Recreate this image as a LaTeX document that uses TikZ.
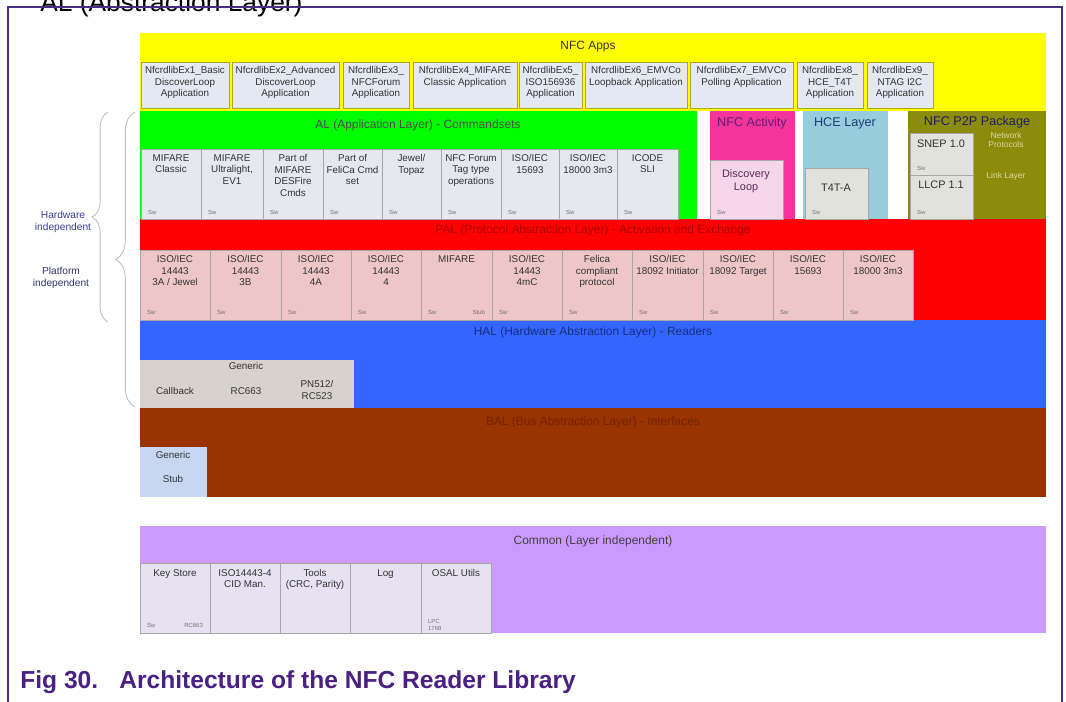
\documentclass[tikz,border=0pt]{standalone}
\usepackage{fontspec}
\setmainfont{Liberation Sans}
\usetikzlibrary{positioning,fit,decorations.pathreplacing}

\definecolor{appyellow}{RGB}{255,255,0}
\definecolor{algreen}{RGB}{0,255,0}
\definecolor{actpink}{RGB}{242,52,155}
\definecolor{hceblue}{RGB}{150,204,220}
\definecolor{ptpolive}{RGB}{140,140,12}
\definecolor{palred}{RGB}{255,0,0}
\definecolor{halblue}{RGB}{51,102,255}
\definecolor{balbrown}{RGB}{153,51,0}
\definecolor{compurple}{RGB}{204,153,255}
\definecolor{appbox}{RGB}{228,232,242}
\definecolor{appedge}{RGB}{176,168,20}
\definecolor{albox}{RGB}{230,232,240}
\definecolor{palbox}{RGB}{238,198,200}
\definecolor{halbox}{RGB}{216,210,204}
\definecolor{stubbox}{RGB}{200,214,242}
\definecolor{combox}{RGB}{230,226,242}
\definecolor{discbox}{RGB}{246,214,234}
\definecolor{greybox}{RGB}{226,226,220}
\definecolor{framepurple}{RGB}{75,44,133}
\definecolor{captionpurple}{RGB}{74,32,131}
\definecolor{sidetext}{RGB}{60,60,150}

\begin{document}
\begin{tikzpicture}[x=0.02cm, y=-0.02cm,
    layer/.style={inner sep=0pt, draw=none},
    unit/.style={inner sep=0pt, draw=black!35, line width=0.3pt},
    appunit/.style={inner sep=0pt, draw=appedge, line width=0.5pt, fill=appbox},
    txt/.style={font=\fontsize{5.6}{6.6}\selectfont, text=black!80, align=center, inner sep=0pt},
    sw/.style={font=\fontsize{3.4}{4}\selectfont, text=black!55, align=left, inner sep=0pt},
    ttl/.style={font=\fontsize{6.8}{8}\selectfont, inner sep=0pt},
    brace/.style={draw=black!25, line width=0.5pt, decorate}]

    \useasboundingbox (0,0) rectangle (1066,702);

    % Frame and headings
    \begin{scope}
        \clip (0,0) rectangle (1066,702);
        \node[anchor=base west, inner sep=0pt, font=\fontsize{15}{18}\selectfont] (head) at (40,12) {AL (Abstraction Layer)};
        \draw[framepurple, line width=0.9pt] (8,720) -- (8,7) -- (1062,7) -- (1062,720);
    \end{scope}
    \node[anchor=base west, inner sep=0pt, text=captionpurple, font=\bfseries\fontsize{14}{16}\selectfont] (cap) at (20,689) {Fig 30.\hspace{12pt}Architecture of the NFC Reader Library};

    % Layers
    \node[layer, fill=appyellow, fit={(140,33)(1046,111)}] (apps) {};
    \node[layer, fill=algreen, fit={(140,111)(697,219)}] (al) {};
    \node[layer, fill=actpink, fit={(710,111)(795,219)}] (act) {};
    \node[layer, fill=hceblue, fit={(803,111)(888,219)}] (hce) {};
    \node[layer, fill=ptpolive, fit={(908,111)(1046,219)}] (p2p) {};
    \node[layer, fill=palred, fit={(140,219)(1046,320)}] (pal) {};
    \node[layer, fill=halblue, fit={(140,320)(1046,408)}] (hal) {};
    \node[layer, fill=balbrown, fit={(140,408)(1046,497)}] (bal) {};
    \node[layer, fill=compurple, fit={(140,526)(1046,633)}] (com) {};

    \node[ttl, text=black!80] (appsttl) at (588,47) {NFC Apps};
    \node[ttl, text=black!70] (alttl) at (418,125) {AL (Application Layer) - Commandsets};
    \node[ttl, text={rgb,255:red,96;green,30;blue,120}, font=\fontsize{7.2}{8}\selectfont] (actttl) at (752,123) {NFC Activity};
    \node[ttl, text={rgb,255:red,30;green,60;blue,120}, font=\fontsize{7.2}{8}\selectfont] (hcettl) at (845,123) {HCE Layer};
    \node[ttl, text={rgb,255:red,30;green,30;blue,90}, font=\fontsize{7.2}{8}\selectfont] (p2pttl) at (977,122) {NFC P2P Package};
    \node[ttl, text={rgb,255:red,170;green,0;blue,0}] (palttl) at (593,230) {PAL (Protocol Abstraction Layer) - Activation and Exchange};
    \node[ttl, text={rgb,255:red,25;green,45;blue,130}] (halttl) at (593,332) {HAL (Hardware Abstraction Layer) - Readers};
    \node[ttl, text={rgb,255:red,115;green,35;blue,0}] (balttl) at (593,422) {BAL (Bus Abstraction Layer) - Interfaces};
    \node[ttl, text=black!75] (comttl) at (593,541) {Common (Layer independent)};

    % Applications
    \node[appunit, fit={(141,62)(229,108)}] (app1) {};
    \node[appunit, fit={(232,62)(339,108)}] (app2) {};
    \node[appunit, fit={(343,62)(409,108)}] (app3) {};
    \node[appunit, fit={(413,62)(517,108)}] (app4) {};
    \node[appunit, fit={(519,62)(582,108)}] (app5) {};
    \node[appunit, fit={(585,62)(687,108)}] (app6) {};
    \node[appunit, fit={(690,62)(793,108)}] (app7) {};
    \node[appunit, fit={(797,62)(863,108)}] (app8) {};
    \node[appunit, fit={(867,62)(933,108)}] (app9) {};
    \node[txt, below=2.5pt of app1.north] (app1t) {NfcrdlibEx1\_Basic\\DiscoverLoop\\Application};
    \node[txt, below=2.5pt of app2.north] (app2t) {NfcrdlibEx2\_Advanced\\DiscoverLoop\\Application};
    \node[txt, below=2.5pt of app3.north] (app3t) {NfcrdlibEx3\_\\NFCForum\\Application};
    \node[txt, below=2.5pt of app4.north] (app4t) {NfcrdlibEx4\_MIFARE\\Classic Application};
    \node[txt, below=2.5pt of app5.north] (app5t) {NfcrdlibEx5\_\\ISO156936\\Application};
    \node[txt, below=2.5pt of app6.north] (app6t) {NfcrdlibEx6\_EMVCo\\Loopback Application};
    \node[txt, below=2.5pt of app7.north] (app7t) {NfcrdlibEx7\_EMVCo\\Polling Application};
    \node[txt, below=2.5pt of app8.north] (app8t) {NfcrdlibEx8\_\\HCE\_T4T\\Application};
    \node[txt, below=2.5pt of app9.north] (app9t) {NfcrdlibEx9\_\\NTAG I2C\\Application};

    % AL command sets
    \node[unit, fill=albox, fit={(141,149)(201,219)}] (al1) {};
    \node[unit, fill=albox, fit={(201,149)(263,219)}] (al2) {};
    \node[unit, fill=albox, fit={(263,149)(323,219)}] (al3) {};
    \node[unit, fill=albox, fit={(323,149)(382,219)}] (al4) {};
    \node[unit, fill=albox, fit={(382,149)(441,219)}] (al5) {};
    \node[unit, fill=albox, fit={(441,149)(501,219)}] (al6) {};
    \node[unit, fill=albox, fit={(501,149)(559,219)}] (al7) {};
    \node[unit, fill=albox, fit={(559,149)(617,219)}] (al8) {};
    \node[unit, fill=albox, fit={(617,149)(678,219)}] (al9) {};
    \node[txt, below=3pt of al1.north] (al1t) {MIFARE\\Classic};
    \node[txt, below=3pt of al2.north] (al2t) {MIFARE\\Ultralight,\\EV1};
    \node[txt, below=3pt of al3.north] (al3t) {Part of\\MIFARE\\DESFire\\Cmds};
    \node[txt, below=3pt of al4.north] (al4t) {Part of\\FeliCa Cmd\\set};
    \node[txt, below=3pt of al5.north] (al5t) {Jewel/\\Topaz};
    \node[txt, below=3pt of al6.north] (al6t) {NFC Forum\\Tag type\\operations};
    \node[txt, below=3pt of al7.north] (al7t) {ISO/IEC\\15693};
    \node[txt, below=3pt of al8.north] (al8t) {ISO/IEC\\18000 3m3};
    \node[txt, below=3pt of al9.north] (al9t) {ICODE\\SLI};
    \node[sw, above right=2.5pt and 4pt of al1.south west] (al1s) {Sw};
    \node[sw, above right=2.5pt and 4pt of al2.south west] (al2s) {Sw};
    \node[sw, above right=2.5pt and 4pt of al3.south west] (al3s) {Sw};
    \node[sw, above right=2.5pt and 4pt of al4.south west] (al4s) {Sw};
    \node[sw, above right=2.5pt and 4pt of al5.south west] (al5s) {Sw};
    \node[sw, above right=2.5pt and 4pt of al6.south west] (al6s) {Sw};
    \node[sw, above right=2.5pt and 4pt of al7.south west] (al7s) {Sw};
    \node[sw, above right=2.5pt and 4pt of al8.south west] (al8s) {Sw};
    \node[sw, above right=2.5pt and 4pt of al9.south west] (al9s) {Sw};

    % NFC activity, HCE, P2P
    \node[unit, fill=discbox, fit={(710,160)(783,219)}] (disc) {};
    \node[txt, text={rgb,255:red,90;green,40;blue,90}, font=\fontsize{6.2}{7.2}\selectfont] (disct) at (746,181) {Discovery\\Loop};
    \node[sw, above right=2.5pt and 4pt of disc.south west] (discs) {Sw};
    \node[unit, fill=greybox, fit={(805,168)(868,219)}] (t4t) {};
    \node[txt, font=\fontsize{6.2}{7.2}\selectfont] (t4tt) at (836,188) {T4T-A};
    \node[sw, above right=2.5pt and 4pt of t4t.south west] (t4ts) {Sw};
    \node[unit, fill=greybox, fit={(910,133)(973,175)}] (snep) {};
    \node[unit, fill=greybox, fit={(910,175)(973,219)}] (llcp) {};
    \node[txt, font=\fontsize{6.2}{7.2}\selectfont] (snept) at (941,144) {SNEP 1.0};
    \node[txt, font=\fontsize{6.2}{7.2}\selectfont] (llcpt) at (941,185) {LLCP 1.1};
    \node[sw, above right=2.5pt and 4pt of snep.south west] (sneps) {Sw};
    \node[sw, above right=2.5pt and 4pt of llcp.south west] (llcps) {Sw};
    \node[txt, text={rgb,255:red,215;green,215;blue,170}, font=\fontsize{4.8}{5.2}\selectfont] (netp) at (1006,140) {Network\\Protocols};
    \node[txt, text={rgb,255:red,215;green,215;blue,170}, font=\fontsize{4.8}{5.2}\selectfont] (linkl) at (1006,176) {Link Layer};

    % PAL protocols
    \node[unit, fill=palbox, fit={(140,250)(210,320)}] (pal1) {};
    \node[unit, fill=palbox, fit={(210,250)(281,320)}] (pal2) {};
    \node[unit, fill=palbox, fit={(281,250)(351,320)}] (pal3) {};
    \node[unit, fill=palbox, fit={(351,250)(421,320)}] (pal4) {};
    \node[unit, fill=palbox, fit={(421,250)(492,320)}] (pal5) {};
    \node[unit, fill=palbox, fit={(492,250)(562,320)}] (pal6) {};
    \node[unit, fill=palbox, fit={(562,250)(632,320)}] (pal7) {};
    \node[unit, fill=palbox, fit={(632,250)(703,320)}] (pal8) {};
    \node[unit, fill=palbox, fit={(703,250)(773,320)}] (pal9) {};
    \node[unit, fill=palbox, fit={(773,250)(843,320)}] (pal10) {};
    \node[unit, fill=palbox, fit={(843,250)(913,320)}] (pal11) {};
    \node[txt, below=3pt of pal1.north] (pal1t) {ISO/IEC\\14443\\3A / Jewel};
    \node[txt, below=3pt of pal2.north] (pal2t) {ISO/IEC\\14443\\3B};
    \node[txt, below=3pt of pal3.north] (pal3t) {ISO/IEC\\14443\\4A};
    \node[txt, below=3pt of pal4.north] (pal4t) {ISO/IEC\\14443\\4};
    \node[txt, below=3pt of pal5.north] (pal5t) {MIFARE};
    \node[txt, below=3pt of pal6.north] (pal6t) {ISO/IEC\\14443\\4mC};
    \node[txt, below=3pt of pal7.north] (pal7t) {Felica\\compliant\\protocol};
    \node[txt, below=3pt of pal8.north] (pal8t) {ISO/IEC\\18092 Initiator};
    \node[txt, below=3pt of pal9.north] (pal9t) {ISO/IEC\\18092 Target};
    \node[txt, below=3pt of pal10.north] (pal10t) {ISO/IEC\\15693};
    \node[txt, below=3pt of pal11.north] (pal11t) {ISO/IEC\\18000 3m3};
    \node[sw, above right=3pt and 4pt of pal1.south west] (pal1s) {Sw};
    \node[sw, above right=3pt and 4pt of pal2.south west] (pal2s) {Sw};
    \node[sw, above right=3pt and 4pt of pal3.south west] (pal3s) {Sw};
    \node[sw, above right=3pt and 4pt of pal4.south west] (pal4s) {Sw};
    \node[sw, above right=3pt and 4pt of pal5.south west] (pal5s) {Sw};
    \node[sw, above left=3pt and 4pt of pal5.south east] (pal5b) {Stub};
    \node[sw, above right=3pt and 4pt of pal6.south west] (pal6s) {Sw};
    \node[sw, above right=3pt and 4pt of pal7.south west] (pal7s) {Sw};
    \node[sw, above right=3pt and 4pt of pal8.south west] (pal8s) {Sw};
    \node[sw, above right=3pt and 4pt of pal9.south west] (pal9s) {Sw};
    \node[sw, above right=3pt and 4pt of pal10.south west] (pal10s) {Sw};
    \node[sw, above right=3pt and 4pt of pal11.south west] (pal11s) {Sw};

    % HAL and BAL
    \node[unit, draw=none, fill=halbox, fit={(140,360)(354,408)}] (rdr) {};
    \node[txt] (rdrg) at (246,366) {Generic};
    \node[txt] (rdr1) at (175,391) {Callback};
    \node[txt] (rdr2) at (246,391) {RC663};
    \node[txt] (rdr3) at (317,390) {PN512/\\RC523};
    \node[unit, draw=none, fill=stubbox, fit={(140,447)(207,497)}] (stub) {};
    \node[txt] (stubg) at (173,455) {Generic};
    \node[txt] (stubs) at (173,479) {Stub};

    % Common
    \node[unit, fill=combox, fit={(140,563)(210,633)}] (com1) {};
    \node[unit, fill=combox, fit={(210,563)(280,633)}] (com2) {};
    \node[unit, fill=combox, fit={(280,563)(350,633)}] (com3) {};
    \node[unit, fill=combox, fit={(350,563)(421,633)}] (com4) {};
    \node[unit, fill=combox, fit={(421,563)(491,633)}] (com5) {};
    \node[txt, below=3.5pt of com1.north] (com1t) {Key Store};
    \node[txt, below=3.5pt of com2.north] (com2t) {ISO14443-4\\CID Man.};
    \node[txt, below=3.5pt of com3.north] (com3t) {Tools\\(CRC, Parity)};
    \node[txt, below=3.5pt of com4.north] (com4t) {Log};
    \node[txt, below=3.5pt of com5.north] (com5t) {OSAL Utils};
    \node[sw, above right=3pt and 4pt of com1.south west] (com1s) {Sw};
    \node[sw, above left=3pt and 4pt of com1.south east] (com1r) {RC663};
    \node[sw, above right=1.5pt and 4pt of com5.south west] (com5s) {LPC\\1768};

    % Side braces
    \draw[brace, decoration={brace, amplitude=9pt}] (108,322) -- (108,112);
    \draw[brace, decoration={brace, amplitude=11pt}] (135,407) -- (135,112);
    \node[txt, text=sidetext, font=\fontsize{5.8}{7}\selectfont] (hwind) at (63,222) {Hardware\\independent};
    \node[txt, text={rgb,255:red,50;green,50;blue,110}, font=\fontsize{5.8}{7}\selectfont] (pfind) at (61,278) {Platform\\independent};
\end{tikzpicture}
\end{document}
